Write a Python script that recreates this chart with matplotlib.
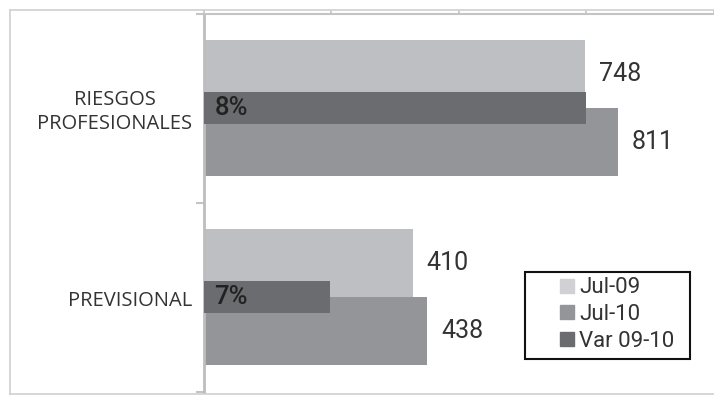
import matplotlib.pyplot as plt
from matplotlib.patches import Rectangle, Patch
from matplotlib.lines import Line2D

plt.rcParams['font.family'] = ['Roboto', 'DejaVu Sans']

categorias = ["RIESGOS\nPROFESIONALES", "PREVISIONAL"]
jul09 = [748, 410]
jul10 = [811, 438]
var_0910 = [0.084, 0.068]
var_labels = ["8%", "7%"]
series = ["Jul-09", "Jul-10", "Var 09-10"]

c_light = "#bebfc2"
c_mid = "#949598"
c_dark = "#6b6c70"

W, H = 714, 395
fig = plt.figure(figsize=(W / 100, H / 100), dpi=100)

# marco exterior del grafico
borde = dict(transform=fig.transFigure, color="#cfcfcf", linewidth=1.2)
fig.lines.append(Line2D([10 / W, 1.0], [1 - 9.5 / H] * 2, **borde))
fig.lines.append(Line2D([10 / W] * 2, [1 - 9.5 / H, 1 - 393.5 / H], **borde))
fig.lines.append(Line2D([10 / W, 1.0], [1 - 393.5 / H] * 2, **borde))

ax = fig.add_axes([203.5 / W, 1 - 391.5 / H, (714 - 203.5) / W, (391.5 - 13.5) / H])
ax2 = ax.twiny()

y = list(range(len(categorias)))
h = 0.36
ax.barh([v - h / 2 for v in y], jul09, height=h, color=c_light, zorder=2)
ax.barh([v + h / 2 for v in y], jul10, height=h, color=c_mid, zorder=2)
ax2.barh(y, var_0910, height=0.17, color=c_dark, zorder=3)

ax.set_xlim(0, 1000)
ax2.set_xlim(0.0601, 0.0920)
ax.set_ylim(1.5, -0.5)

# etiquetas de valores
for i in y:
    ax.annotate(str(jul09[i]), (jul09[i], i - h / 2), xytext=(10, 0),
                textcoords="offset points", ha="left", va="center",
                fontsize=18, color="#333333")
    ax.annotate(str(jul10[i]), (jul10[i], i + h / 2), xytext=(10, 0),
                textcoords="offset points", ha="left", va="center",
                fontsize=18, color="#333333")
    ax2.annotate(var_labels[i], (0, i), xycoords=("axes fraction", "data"),
                 xytext=(8, 0), textcoords="offset points", ha="left",
                 va="center", fontsize=18.5, fontweight="medium",
                 color="#222222", zorder=5)
    # nombre de la categoria
    ax.annotate(categorias[i], (0, i), xycoords=("axes fraction", "data"),
                xytext=(-8, -3), textcoords="offset points", ha="right",
                va="center", multialignment="center", linespacing=1.3,
                fontsize=14.5, family=["Open Sans", "DejaVu Sans"],
                color="#333333", annotation_clip=False)

# ejes
ax.xaxis.tick_top()
ax.set_xticks([0, 250, 500, 750, 1000])
ax.set_xticklabels([])
ax.tick_params(axis="x", direction="out", length=3, width=1.2, color="#c4c4c4")
ax.set_yticks([-0.5, 0.5, 1.5])
ax.set_yticklabels([])
ax.tick_params(axis="y", length=6, width=1.5, color="#c4c4c4")
for s in ("right", "bottom"):
    ax.spines[s].set_visible(False)
ax.spines["top"].set_color("#c4c4c4")
ax.spines["top"].set_linewidth(1.5)
ax.spines["left"].set_color("#bdbdbd")
ax.spines["left"].set_linewidth(2)

for s in ax2.spines.values():
    s.set_visible(False)
ax2.set_xticks([])

# leyenda
handles = [Patch(color="#d1d1d3"), Patch(color=c_mid), Patch(color=c_dark)]
fig.patches.append(Rectangle((525 / W, 1 - 359 / H), 165 / W, 87.5 / H,
                             transform=fig.transFigure, fill=False,
                             edgecolor="#111111", linewidth=1.5, zorder=10))
leg = fig.legend(handles, series, loc="upper left",
                 bbox_to_anchor=(556 / W, 1 - 273 / H), frameon=False,
                 fontsize=16, handlelength=0.6, handleheight=0.6,
                 handletextpad=0.25, labelspacing=0.25, borderpad=0.2,
                 borderaxespad=0)
for t in leg.get_texts():
    t.set_color("#333333")

fig.savefig("out.png", dpi=100)
plt.close(fig)
